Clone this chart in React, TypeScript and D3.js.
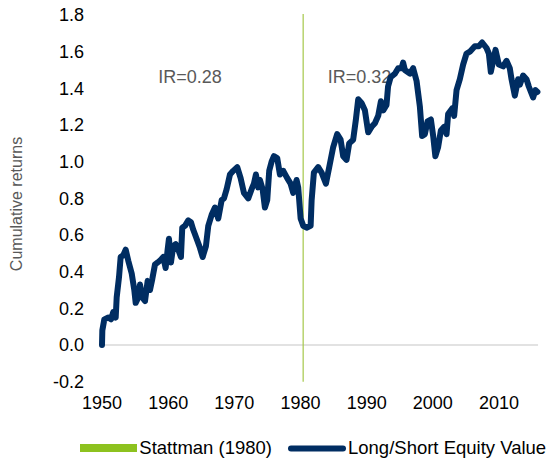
import React from "react";
import * as d3 from "d3";

const years = [
  1950.0, 1950.05, 1950.35, 1950.95, 1951.36, 1951.71, 1952.07, 1952.22, 1952.57, 1952.82,
  1953.22, 1953.58, 1953.97, 1954.49, 1954.88, 1955.09, 1955.48, 1955.74, 1956.09, 1956.5,
  1956.9, 1957.25, 1957.6, 1958.01, 1958.41, 1958.76, 1959.26, 1959.62, 1959.92, 1960.12,
  1960.42, 1960.77, 1961.13, 1961.53, 1961.93, 1962.13, 1962.54, 1963.04, 1963.44, 1963.78,
  1964.3, 1964.8, 1965.21, 1965.71, 1966.06, 1966.57, 1967.07, 1967.57, 1968.08, 1968.43,
  1968.84, 1969.34, 1969.83, 1970.44, 1970.95, 1971.45, 1972.1, 1972.61, 1972.96, 1973.26,
  1973.61, 1973.87, 1974.27, 1974.62, 1974.97, 1975.27, 1975.63, 1975.98, 1976.48, 1976.89,
  1977.39, 1977.99, 1978.5, 1978.9, 1979.41, 1979.65, 1980.02, 1980.41, 1980.92, 1981.53,
  1981.68, 1982.02, 1982.67, 1983.19, 1983.84, 1984.34, 1984.94, 1985.54, 1986.06, 1986.45,
  1986.96, 1987.36, 1987.96, 1988.37, 1988.72, 1989.23, 1989.73, 1990.23, 1990.74, 1991.24,
  1991.74, 1992.15, 1992.5, 1993.0, 1993.23, 1993.61, 1994.26, 1994.76, 1995.27, 1995.51,
  1995.77, 1996.53, 1997.02, 1997.54, 1998.04, 1998.38, 1998.79, 1999.2, 1999.7, 2000.05,
  2000.38, 2000.8, 2001.21, 2001.71, 2002.07, 2002.31, 2002.92, 2003.22, 2003.58, 2004.08,
  2004.58, 2005.09, 2005.59, 2006.34, 2006.95, 2007.45, 2008.11, 2008.46, 2008.76, 2009.11,
  2009.47, 2009.97, 2010.62, 2011.13, 2011.63, 2011.89, 2012.39, 2012.89, 2013.14, 2013.64,
  2014.15, 2014.5, 2015.15, 2015.51, 2015.8,
];

const lsValue = [
  0.0, 0.08, 0.14, 0.15, 0.14, 0.18, 0.15, 0.26, 0.37, 0.48,
  0.49, 0.52, 0.46, 0.39, 0.3, 0.23, 0.26, 0.33, 0.26, 0.24,
  0.35, 0.3, 0.36, 0.44, 0.45, 0.46, 0.48, 0.42, 0.52, 0.58,
  0.45, 0.54, 0.55, 0.52, 0.48, 0.64, 0.65, 0.68, 0.67, 0.63,
  0.58, 0.53, 0.48, 0.54, 0.65, 0.71, 0.75, 0.69, 0.79, 0.8,
  0.85, 0.93, 0.95, 0.97, 0.91, 0.83, 0.8, 0.85, 0.88, 0.93,
  0.86, 0.9, 0.85, 0.75, 0.79, 0.95, 1.0, 1.03, 1.02, 0.93,
  0.95, 0.91, 0.88, 0.83, 0.9, 0.86, 0.69, 0.65, 0.64, 0.65,
  0.79, 0.94, 0.97, 0.94, 0.88, 0.97, 1.08, 1.15, 1.12, 1.03,
  1.01, 1.1, 1.12, 1.23, 1.34, 1.32, 1.28, 1.16, 1.19, 1.21,
  1.25, 1.33, 1.28, 1.31, 1.41, 1.46, 1.48, 1.51, 1.51, 1.54,
  1.5, 1.48, 1.51, 1.44, 1.3, 1.14, 1.15, 1.22, 1.23, 1.14,
  1.03, 1.08, 1.17, 1.19, 1.15, 1.26, 1.29, 1.25, 1.39, 1.45,
  1.53, 1.59, 1.6, 1.63, 1.63, 1.65, 1.62, 1.59, 1.49, 1.55,
  1.61, 1.53, 1.52, 1.55, 1.51, 1.45, 1.36, 1.45, 1.42, 1.47,
  1.45, 1.41, 1.35, 1.39, 1.38,
];

const xTicks = [1950, 1960, 1970, 1980, 1990, 2000, 2010];
const yTicks = [-0.2, 0, 0.2, 0.4, 0.6, 0.8, 1.0, 1.2, 1.4, 1.6, 1.8];
const stattmanYear = [1980.4];
const irLabels = ["IR=0.28", "IR=0.32"];
const irYears = [1958.5, 1984.1];
const irValue = [1.462, 1.462];
const seriesNames = ["Stattman (1980)", "Long/Short Equity Value"];

const W = 547;
const H = 462;
const FONT = "'Liberation Sans', Arial, sans-serif";
const NAVY = "#002d62";
const GREEN = "#8dc21f";

export default function App() {
  const x = d3.scaleLinear().domain([1950, 2016]).range([102, 102 + 66 * 6.617]);
  const y = d3.scaleLinear().domain([-0.2, 1.8]).range([381.7, 15]);
  const pts: [number, number][] = years.map((yr, i) => [yr, lsValue[i]]);
  const line = d3
    .line<[number, number]>()
    .x((d) => x(d[0]))
    .y((d) => y(d[1]))
    .curve(d3.curveLinear);

  return (
    <svg
      width={W}
      height={H}
      style={{ position: "absolute", left: 0, top: 0, background: "#fff" }}
      fontFamily={FONT}
    >
      <line x1={x(1950)} x2={x(2015.9)} y1={y(0)} y2={y(0)} stroke="#d9d9d9" strokeWidth={1.5} />
      {stattmanYear.map((s, i) => (
        <line key={i} x1={x(s)} x2={x(s)} y1={y(1.8) - 1} y2={y(-0.2)} stroke="#a5c84a" strokeWidth={1.2} />
      ))}
      {yTicks.map((t) => (
        <text key={t} x={84} y={y(t)} dy="0.35em" textAnchor="end" fontSize={18} fill="#000">
          {t.toFixed(1)}
        </text>
      ))}
      {xTicks.map((t) => (
        <text key={t} x={x(t)} y={403} dy="0.35em" textAnchor="middle" fontSize={18} fill="#000">
          {t}
        </text>
      ))}
      <text
        transform={`translate(22,${204}) rotate(-90)`}
        textAnchor="middle"
        fontSize={16}
        fill="#595959"
      >
        Cumulative returns
      </text>
      {irLabels.map((l, i) => (
        <text key={l} x={x(irYears[i])} y={y(irValue[i])} dy="0.35em" textAnchor="start" fontSize={18} fill="#595959">
          {l}
        </text>
      ))}
      <path d={line(pts) || ""} fill="none" stroke={NAVY} strokeWidth={6} strokeLinejoin="round" strokeLinecap="round" />
      <rect x={80} y={444} width={57} height={8} fill={GREEN} />
      <text x={272} y={448} dy="0.35em" textAnchor="end" fontSize={18.5} fill="#000">
        {seriesNames[0]}
      </text>
      <line x1={291} x2={343} y1={448.5} y2={448.5} stroke={NAVY} strokeWidth={6} strokeLinecap="round" />
      <text x={348} y={448} dy="0.35em" fontSize={18.5} fill="#000">
        {seriesNames[1]}
      </text>
    </svg>
  );
}
